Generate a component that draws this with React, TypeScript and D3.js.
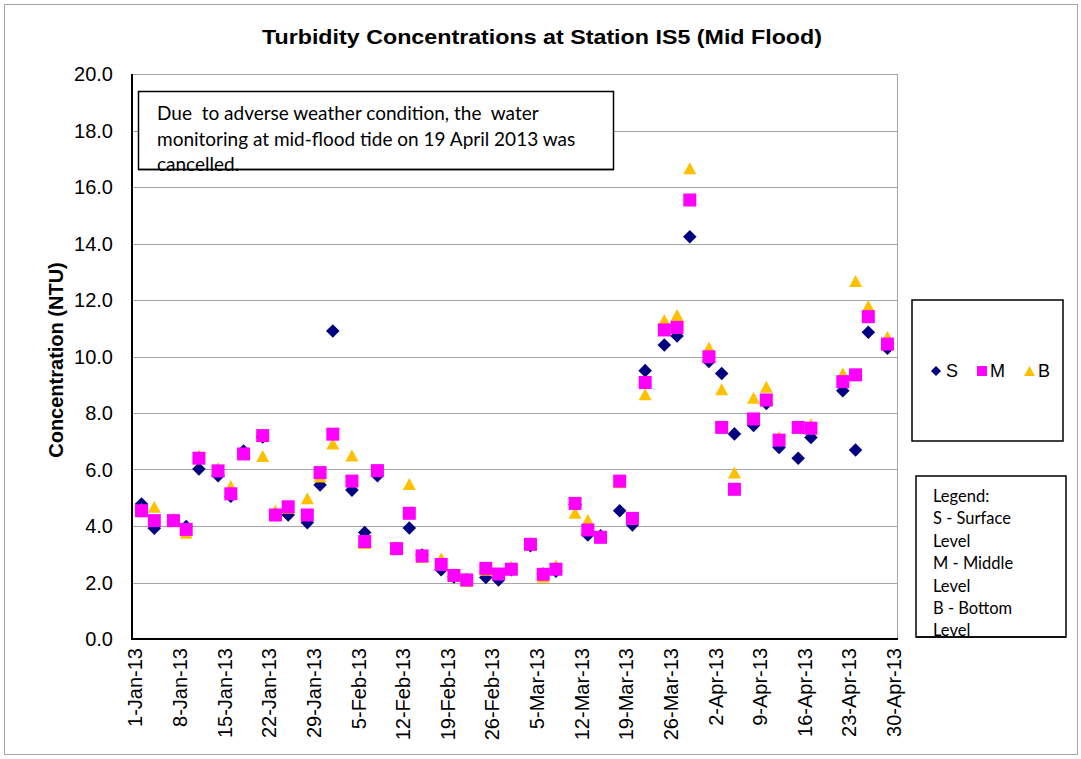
import React from "react";
import * as d3 from "d3";

const dates: string[] = [
  "2013-01-02","2013-01-04","2013-01-07","2013-01-09","2013-01-11","2013-01-14","2013-01-16","2013-01-18","2013-01-21","2013-01-23","2013-01-25","2013-01-28","2013-01-30",
  "2013-02-01","2013-02-04","2013-02-06","2013-02-08","2013-02-11","2013-02-13","2013-02-15","2013-02-18","2013-02-20","2013-02-22","2013-02-25","2013-02-27",
  "2013-03-01","2013-03-04","2013-03-06","2013-03-08","2013-03-11","2013-03-13","2013-03-15","2013-03-18","2013-03-20","2013-03-22","2013-03-25","2013-03-27","2013-03-29",
  "2013-04-01","2013-04-03","2013-04-05","2013-04-08","2013-04-10","2013-04-12","2013-04-15","2013-04-17","2013-04-22","2013-04-24","2013-04-26","2013-04-29",
];

const surface: number[] = [
  4.78,3.92,4.2,3.98,6.02,5.78,5.05,6.65,7.15,4.4,4.39,4.12,5.45,
  10.9,5.27,3.77,5.78,3.2,3.93,2.97,2.45,2.2,2.1,2.18,2.09,
  2.45,3.3,2.3,2.4,4.75,3.68,3.65,4.54,4.04,9.5,10.41,10.73,14.24,
  9.82,9.4,7.26,7.56,8.34,6.78,6.4,7.13,8.79,6.69,10.86,10.29,
];

const middle: number[] = [
  4.54,4.19,4.19,3.88,6.4,5.95,5.14,6.55,7.2,4.39,4.68,4.39,5.89,
  7.25,5.59,3.45,5.96,3.2,4.45,2.94,2.64,2.25,2.09,2.5,2.3,
  2.47,3.35,2.29,2.47,4.8,3.86,3.6,5.59,4.27,9.08,10.94,11.03,15.54,
  9.99,7.49,5.3,7.79,8.46,7.04,7.49,7.46,9.11,9.35,11.41,10.44,
];

const bottom: number[] = [
  4.6,4.68,4.25,3.76,6.5,6.05,5.42,6.55,6.48,4.55,4.65,4.98,5.75,
  6.92,6.5,3.4,5.95,3.25,5.49,2.9,2.85,2.3,2.05,2.45,2.3,
  2.57,3.42,2.2,2.6,4.47,4.21,3.62,5.55,4.25,8.66,11.29,11.47,16.66,
  10.32,8.84,5.89,8.54,8.93,7.15,7.5,7.6,9.4,12.67,11.79,10.7,
];

const yTicks: number[] = [0, 2, 4, 6, 8, 10, 12, 14, 16, 18, 20];
const xTickStart = "2013-01-01";
const xTickEnd = "2013-04-30";

const title = "Turbidity Concentrations at Station IS5 (Mid Flood)";
const yTitle = "Concentration (NTU)";
const noteLines = [
  "Due  to adverse weather condition, the  water",
  "monitoring at mid-flood tide on 19 April 2013 was",
  "cancelled.",
];
const legendNoteLines = ["Legend:", "S - Surface", "Level", "M - Middle", "Level", "B - Bottom", "Level"];

const COL_S = "#000080";
const COL_M = "#FF00FF";
const COL_B = "#FFC000";

const parse = (s: string) => new Date(s + "T00:00:00Z");
const HALF_DAY = 12 * 3600 * 1000;
const WEEK = 7 * 24 * 3600 * 1000;

export default function App() {
  const W = 1081, H = 759;
  const left = 132, right = 897, top = 74, bot = 639;

  const x = d3
    .scaleUtc()
    .domain([new Date(parse(xTickStart).getTime() - HALF_DAY), new Date(parse(xTickEnd).getTime() + HALF_DAY)])
    .range([left, right]);
  const y = d3.scaleLinear().domain([0, 20]).range([bot, top]);

  const weekly: Date[] = [];
  for (let t = parse(xTickStart).getTime(); t <= parse(xTickEnd).getTime(); t += WEEK) weekly.push(new Date(t));
  const fmt = d3.utcFormat("%-d-%b-%y");

  const diamond = d3.symbol().type(d3.symbolSquare).size(92)();
  const tri = (cx: number, cy: number) => {
    const w = 13, h = 12;
    return `M${cx},${cy - h / 2}L${cx + w / 2},${cy + h / 2}L${cx - w / 2},${cy + h / 2}Z`;
  };

  const pts = dates.map((d, i) => ({ x: x(parse(d)), s: surface[i], m: middle[i], b: bottom[i] }));

  const arial = "'Liberation Sans', Arial, sans-serif";
  const calibri = "Lato, 'Open Sans', sans-serif";

  return (
    <svg width={W} height={H} style={{ position: "absolute", left: 0, top: 0, background: "#fff" }}>
      <rect x={4.5} y={4.5} width={1073} height={750} fill="#fff" stroke="#a6a6a6" strokeWidth={1} />
      <text x={542} y={44} textAnchor="middle" fontFamily={arial} fontWeight="bold" fontSize={21} textLength={560} lengthAdjust="spacingAndGlyphs">
        {title}
      </text>

      {yTicks.map((t) => (
        <line key={"g" + t} x1={left} x2={right} y1={Math.round(y(t)) + 0.5} y2={Math.round(y(t)) + 0.5} stroke="#a6a6a6" strokeWidth={1} />
      ))}
      <line x1={right + 0.5} x2={right + 0.5} y1={top} y2={bot} stroke="#a6a6a6" strokeWidth={1} />
      <line x1={left} x2={left} y1={top} y2={bot + 1} stroke="#000" strokeWidth={2} />
      <line x1={left} x2={right + 1} y1={bot} y2={bot} stroke="#000" strokeWidth={2} />

      {yTicks.map((t) => (
        <text key={"yl" + t} x={113} y={y(t)} dy="0.36em" textAnchor="end" fontFamily={arial} fontSize={20}>
          {t.toFixed(1)}
        </text>
      ))}
      {weekly.map((d) => (
        <text
          key={"xl" + d.getTime()}
          transform={`translate(${x(d)},${648}) rotate(-90)`}
          dy="0.36em"
          textAnchor="end"
          fontFamily={arial}
          fontSize={20}
        >
          {fmt(d)}
        </text>
      ))}
      <text transform={`translate(56,360) rotate(-90)`} dy="0.36em" textAnchor="middle" fontFamily={arial} fontWeight="bold" fontSize={20}>
        {yTitle}
      </text>

      {pts.map((p, i) => (
        <path key={"s" + i} d={diamond} transform={`translate(${p.x},${y(p.s)}) rotate(45)`} fill={COL_S} />
      ))}
      {pts.map((p, i) => (
        <path key={"b" + i} d={tri(p.x, y(p.b))} fill={COL_B} />
      ))}
      {pts.map((p, i) => (
        <rect key={"m" + i} x={p.x - 6.5} y={y(p.m) - 6.5} width={13} height={13} fill={COL_M} />
      ))}

      <rect x={138.5} y={91.5} width={475} height={78} fill="#fff" stroke="#000" strokeWidth={1.5} />
      {noteLines.map((l, i) => (
        <text key={"n" + i} x={157} y={120 + i * 25.5} fontFamily={calibri} fontSize={19} style={{ whiteSpace: "pre" }}>
          {l}
        </text>
      ))}
      <line x1={138.5} x2={613.5} y1={169.5} y2={169.5} stroke="#000" strokeWidth={1.5} />

      <rect x={912} y={300} width={151} height={141} fill="#fff" stroke="#000" strokeWidth={1.5} />
      <path d={diamond} transform={`translate(936,371) rotate(45) scale(0.75)`} fill={COL_S} />
      <text x={946} y={371} dy="0.36em" fontFamily={arial} fontSize={18}>S</text>
      <rect x={977} y={366} width={10} height={10} fill={COL_M} />
      <text x={990} y={371} dy="0.36em" fontFamily={arial} fontSize={18}>M</text>
      <path d={`M1029.5,366L1035,376L1024,376Z`} fill={COL_B} />
      <text x={1038} y={371} dy="0.36em" fontFamily={arial} fontSize={18}>B</text>

      <rect x={916} y={476} width={150} height={161} fill="#fff" stroke="#000" strokeWidth={1.5} />
      {legendNoteLines.map((l, i) => (
        <text key={"l" + i} x={933} y={502 + i * 22.4} fontFamily={calibri} fontSize={16.5} style={{ whiteSpace: "pre" }}>
          {l}
        </text>
      ))}
      <line x1={916} x2={1066} y1={637} y2={637} stroke="#000" strokeWidth={1.5} />
    </svg>
  );
}
